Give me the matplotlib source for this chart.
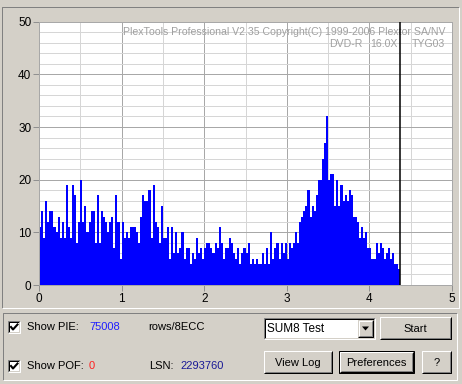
import numpy as np
import matplotlib
matplotlib.use("Agg")
import matplotlib.pyplot as plt
from matplotlib.patches import Rectangle, Polygon

plt.rcParams['font.family'] = ['Liberation Sans', 'DejaVu Sans']

# PIE sum-8 per sample, one bar every 0.025 GB
step = 0.025
pie = [11, 14, 9, 16, 12, 14, 14, 11, 10, 13,
       9, 12, 9, 19, 11, 9, 19, 17, 8, 12,
       20, 12, 15, 10, 12, 14, 14, 8, 17, 8,
       14, 13, 12, 10, 12, 13, 7, 17, 12, 5,
       12, 9, 10, 9, 11, 11, 11, 10, 8, 13,
       17, 16, 16, 18, 9, 19, 12, 11, 8, 15,
       9, 9, 11, 5, 11, 6, 10, 6, 7, 10,
       5, 7, 7, 4, 6, 5, 9, 6, 7, 5,
       7, 8, 8, 7, 6, 8, 7, 11, 8, 5,
       7, 7, 9, 8, 6, 5, 7, 4, 6, 7,
       6, 8, 4, 5, 4, 5, 4, 4, 6, 4,
       7, 4, 10, 5, 7, 8, 5, 8, 6, 8,
       5, 8, 7, 8, 10, 8, 12, 13, 14, 15,
       18, 13, 15, 14, 17, 20, 20, 24, 27, 32,
       20, 21, 21, 15, 20, 15, 19, 16, 17, 16,
       18, 17, 13, 13, 12, 9, 11, 9, 10, 7,
       7, 5, 5, 8, 6, 8, 7, 5, 6, 7,
       5, 6, 4, 4, 3]
end_pos = 4.37
x_ticks = [0, 1, 2, 3, 4, 5]
y_ticks = [0, 10, 20, 30, 40, 50]
watermark = "PlexTools Professional V2.35 Copyright(C) 1999-2006 Plextor SA/NV"
disc_info = ["DVD-R", "16.0X", "TYG03"]
pie_total = "75008"
pof_total = "0"
lsn = "2293760"

W, H = 462, 384
BG = '#D4D0C8'
fig = plt.figure(figsize=(W / 100, H / 100), dpi=100, facecolor=BG)

# overlay in pixel units for the window furniture
ui = fig.add_axes([0, 0, 1, 1])
ui.set_xlim(0, W)
ui.set_ylim(H, 0)
ui.axis('off')
ui.set_zorder(-1)
PX = 0.72


def bevel(x0, y0, x1, y1, tl, br):
    ui.plot([x0, x0, x1], [y1, y0, y0], color=tl, lw=PX, solid_capstyle='butt')
    ui.plot([x0, x1, x1], [y1, y1, y0], color=br, lw=PX, solid_capstyle='butt')


def button(x0, y0, x1, y1, label, default=False):
    ui.add_patch(Rectangle((x0, y0), x1 - x0, y1 - y0, fc=BG, ec='none'))
    if default:
        ui.add_patch(Rectangle((x0, y0), x1 - x0, y1 - y0, fc='none', ec='black', lw=PX))
        x0, y0, x1, y1 = x0 + 1, y0 + 1, x1 - 1, y1 - 1
    bevel(x0, y0, x1, y1, 'white', 'black')
    bevel(x0 + 1, y0 + 1, x1 - 1, y1 - 1, BG, '#808080')
    ui.text((x0 + x1) / 2, (y0 + y1) / 2 + 0.5, label, ha='center', va='center', fontsize=8)


def checkbox(x0, y0):
    ui.add_patch(Rectangle((x0, y0), 12, 12, fc='white', ec='none'))
    bevel(x0, y0, x0 + 12, y0 + 12, '#808080', 'white')
    bevel(x0 + 1, y0 + 1, x0 + 11, y0 + 11, 'black', BG)
    ui.plot([x0 + 3, x0 + 5, x0 + 9.5], [y0 + 6, y0 + 8.5, y0 + 3.5], color='black', lw=1.5)


# panels
bevel(2, 7, 459, 308, '#808080', 'white')
bevel(3, 312.5, 457, 380, '#808080', 'white')

# chart
ax = fig.add_axes([39 / W, 1 - 285 / H, (452 - 39) / W, (285 - 21.7) / H])
ax.set_facecolor('white')
x = np.arange(len(pie)) * step
ax.bar(x, pie, width=step, align='edge', color='#0000FF', linewidth=0, zorder=2)
ax.axvline(end_pos, color='black', lw=1.1, zorder=4)
ax.set_xlim(0, 5)
ax.set_ylim(0, 50)
ax.set_xticks(x_ticks)
ax.set_yticks(y_ticks)
ax.set_xticks(np.arange(0, 5.01, 0.5), minor=True)
ax.set_yticks(np.arange(0, 50.1, 2), minor=True)
ax.grid(which='minor', color='#D6D6D6', lw=PX, zorder=0)
ax.grid(which='major', color='#A8A8A8', lw=PX, zorder=0)
ax.set_axisbelow(True)
ax.tick_params(which='minor', length=0)
ax.tick_params(which='major', length=4, width=PX, color='#909090', labelsize=8.5, pad=1.5)
for s in ax.spines.values():
    s.set_color('#A8A8A8')
    s.set_linewidth(PX)

ax.text(0.985, 0.96, watermark, transform=ax.transAxes, ha='right', va='center',
        fontsize=7.6, color='#A0A0A0', zorder=3)
for lbl, xr in zip(disc_info, [362, 398, 445]):
    ax.text(xr, 44, lbl, transform=ui.transData, ha='right', va='center',
            fontsize=7.6, color='#A0A0A0', zorder=3)

# controls
checkbox(8, 321)
ui.text(27, 327.5, "Show PIE:", va='center', fontsize=8)
ui.text(89, 327, pie_total, va='center', fontsize=8, color='#1E1EFF')
ui.text(148, 327, "rows/8ECC", va='center', fontsize=8)

checkbox(8, 360)
ui.text(27, 366, "Show POF:", va='center', fontsize=8)
ui.text(89, 366, pof_total, va='center', fontsize=8, color='#FF2020')
ui.text(149, 366, "LSN:", va='center', fontsize=8)
ui.text(180, 366, lsn, va='center', fontsize=8, color='#1A1A96')

# combo box
ui.add_patch(Rectangle((264, 318), 111, 21, fc='white', ec='none'))
bevel(264, 318, 375, 339, '#808080', 'white')
bevel(265, 319, 374, 338, 'black', BG)
ui.text(267, 329, "SUM8 Test", va='center', fontsize=8.5)
ui.add_patch(Rectangle((358, 320), 15, 17, fc=BG, ec='none'))
bevel(358, 320, 373, 337, BG, 'black')
bevel(359, 321, 372, 336, 'white', '#808080')
ui.add_patch(Polygon([[362, 326.5], [369, 326.5], [365.5, 330.5]], closed=True, fc='black', ec='none'))

button(380, 317, 451, 339, "Start")
button(264, 351, 332, 373, "View Log")
button(339, 351, 414, 373, "Preferences", default=True)
button(422, 351, 451, 373, "?")

fig.savefig('out.png', dpi=100, facecolor=BG)
